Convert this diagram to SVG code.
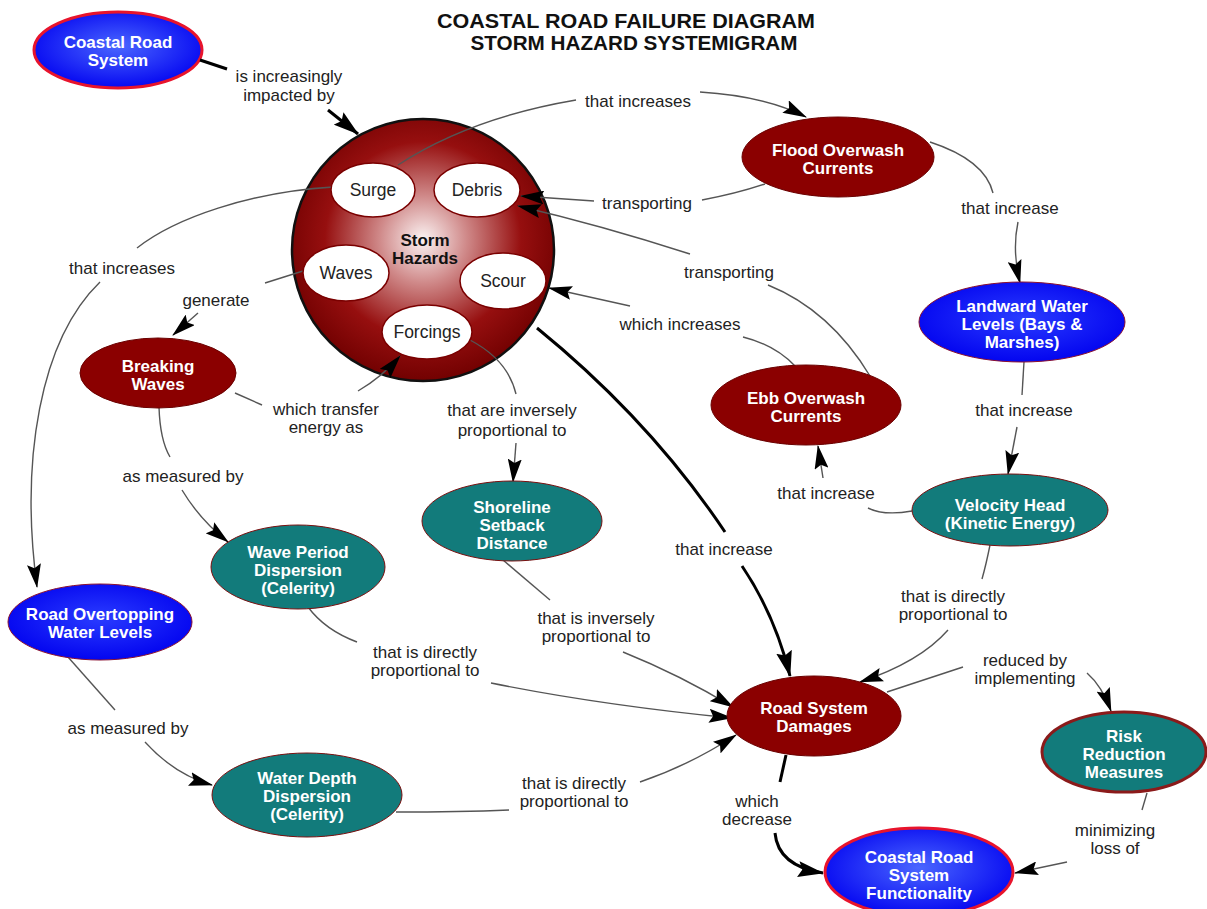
<svg xmlns="http://www.w3.org/2000/svg" width="1207" height="909" viewBox="0 0 1207 909">
<style>
.title{font-family:"Liberation Sans",Arial,sans-serif;font-weight:bold;font-size:20px;fill:#111;text-anchor:middle}
.nt{font-family:"Liberation Sans",Arial,sans-serif;font-weight:bold;font-size:17px;fill:#fff;text-anchor:middle}
.it{font-family:"Liberation Sans",Arial,sans-serif;font-size:17.5px;fill:#222;text-anchor:middle}
.sh{font-family:"Liberation Sans",Arial,sans-serif;font-weight:bold;font-size:17px;fill:#111;text-anchor:middle}
.lb{font-family:"Liberation Sans",Arial,sans-serif;font-size:17px;fill:#222;text-anchor:middle}
.red{fill:#8b0000;stroke:#6a0000;stroke-width:1}
.teal{fill:#127b7b;stroke:#7a1010;stroke-width:1}
.blue{fill:url(#blueG);stroke:#8a1030;stroke-width:1}
.blueR{fill:url(#blueG2);stroke:#e8142c;stroke-width:3}
.inner{fill:#fff;stroke:#7a0000;stroke-width:1.5}
.c{fill:none;stroke:#555;stroke-width:1.4}
.ca{fill:none;stroke:#555;stroke-width:1.4;marker-end:url(#ah)}
.t{fill:none;stroke:#000;stroke-width:3}
.ta{fill:none;stroke:#000;stroke-width:3;marker-end:url(#ahT)}
</style>
<defs>
<marker id="ah" markerWidth="24" markerHeight="14" refX="23" refY="7" orient="auto" markerUnits="userSpaceOnUse"><path d="M0,0 L24,7 L0,14 L4,7 z" fill="#000"/></marker>
<marker id="ahT" markerWidth="26" markerHeight="16" refX="25" refY="8" orient="auto" markerUnits="userSpaceOnUse"><path d="M0,0 L26,8 L0,16 L4,8 z" fill="#000"/></marker>
<radialGradient id="blueG" cx="0.5" cy="0.45" r="0.6"><stop offset="0" stop-color="#2a3cff"/><stop offset="1" stop-color="#0000ee"/></radialGradient>
<radialGradient id="blueG2" cx="0.5" cy="0.45" r="0.6"><stop offset="0" stop-color="#4a66ff"/><stop offset="1" stop-color="#0000f0"/></radialGradient>
<radialGradient id="stormG" cx="0.5" cy="0.46" r="0.55"><stop offset="0" stop-color="#fbf3f3"/><stop offset="0.3" stop-color="#d08a8a"/><stop offset="0.68" stop-color="#960f0f"/><stop offset="1" stop-color="#700000"/></radialGradient>
</defs>
<rect width="1207" height="909" fill="#fff"/>
<g id="title">
<text class="title" x="626" y="28" textLength="378" lengthAdjust="spacingAndGlyphs">COASTAL ROAD FAILURE DIAGRAM</text>
<text class="title" x="634" y="50" textLength="327" lengthAdjust="spacingAndGlyphs">STORM HAZARD SYSTEMIGRAM</text>
</g>
<g id="node-coastal-road-system">
<ellipse class="blueR" cx="118" cy="50" rx="84" ry="38"/>
<text class="nt" x="118" y="48">Coastal Road</text>
<text class="nt" x="118" y="66">System</text>
</g>
<g id="node-storm-hazards">
<circle cx="423" cy="250" r="131" fill="url(#stormG)" stroke="#111" stroke-width="2.5"/>
<text class="sh" x="425" y="246">Storm</text>
<text class="sh" x="425" y="264">Hazards</text>
</g>
<g id="connectors">
<path class="t" d="M200 60 L227 69"/>
<path class="ta" d="M328 110 L358 134"/>
<path class="c" d="M398 165 Q470 118 576 100"/>
<path class="ca" d="M700 92 Q765 96 806 117"/>
<path class="c" d="M765 184 Q735 194 702 200"/>
<path class="ca" d="M594 201 L521 196"/>
<path class="c" d="M870 376 Q830 310 768 285"/>
<path class="ca" d="M690 254 Q600 225 518 206"/>
<path class="c" d="M795 366 Q775 345 743 337"/>
<path class="ca" d="M630 306 L549 288"/>
<path class="c" d="M930 142 Q985 160 993 193"/>
<path class="ca" d="M1018 222 Q1012 250 1020 283"/>
<path class="c" d="M1024 362 L1022 395"/>
<path class="ca" d="M1017 427 L1008 474"/>
<path class="c" d="M912 511 Q884 516 868 508"/>
<path class="ca" d="M823 478 L818 446"/>
<path class="c" d="M990 545 Q986 565 982 579"/>
<path class="ca" d="M948 630 Q920 662 860 682"/>
<path class="c" d="M887 692 L963 667"/>
<path class="ca" d="M1087 673 Q1102 686 1111 711"/>
<path class="c" d="M1147 793 L1142 810"/>
<path class="ca" d="M1067 862 L1015 873"/>
<path class="t" d="M786 755 L780 782"/>
<path class="ta" d="M775 833 Q778 866 823 873"/>
<path class="t" d="M537 328 Q650 420 725 532"/>
<path class="ta" d="M742 566 Q775 615 790 676"/>
<path class="c" d="M470 340 Q508 360 516 394"/>
<path class="ca" d="M516 443 L513 482"/>
<path class="c" d="M235 393 L262 405"/>
<path class="ca" d="M358 391 Q382 377 400 356"/>
<path class="c" d="M303 271 L265 283"/>
<path class="ca" d="M198 313 L173 335"/>
<path class="c" d="M333 187 C250 192 175 218 137 248"/>
<path class="ca" d="M100 282 C40 340 20 460 37 587"/>
<path class="c" d="M159 407 Q160 440 170 457"/>
<path class="ca" d="M182 490 Q200 520 228 542"/>
<path class="c" d="M308 607 Q325 630 357 642"/>
<path class="ca" d="M491 683 Q600 705 732 718"/>
<path class="c" d="M503 560 L550 600"/>
<path class="ca" d="M623 652 Q680 675 733 707"/>
<path class="c" d="M396 812 Q460 812 509 810"/>
<path class="ca" d="M640 782 Q690 765 736 735"/>
<path class="c" d="M68 657 L115 710"/>
<path class="ca" d="M145 742 Q175 775 212 785"/>
</g>
<g id="node-surge"><ellipse class="inner" cx="373" cy="190" rx="42" ry="27"/><text class="it" x="373" y="196">Surge</text></g>
<g id="node-debris"><ellipse class="inner" cx="477" cy="190" rx="43" ry="27"/><text class="it" x="477" y="196">Debris</text></g>
<g id="node-waves"><ellipse class="inner" cx="346" cy="273" rx="43" ry="28"/><text class="it" x="346" y="279">Waves</text></g>
<g id="node-scour"><ellipse class="inner" cx="503" cy="281" rx="43" ry="28"/><text class="it" x="503" y="287">Scour</text></g>
<g id="node-forcings"><ellipse class="inner" cx="427" cy="332" rx="45" ry="27"/><text class="it" x="427" y="338">Forcings</text></g>
<g id="node-flood-overwash">
<ellipse class="red" cx="838" cy="157" rx="96" ry="40"/>
<text class="nt" x="838" y="156">Flood Overwash</text>
<text class="nt" x="838" y="174">Currents</text>
</g>
<g id="node-landward-water-levels">
<ellipse class="blue" cx="1022" cy="322" rx="103" ry="40"/>
<text class="nt" x="1022" y="312">Landward Water</text>
<text class="nt" x="1022" y="330">Levels (Bays &amp;</text>
<text class="nt" x="1022" y="348">Marshes)</text>
</g>
<g id="node-breaking-waves">
<ellipse class="red" cx="158" cy="373" rx="78" ry="35"/>
<text class="nt" x="158" y="372">Breaking</text>
<text class="nt" x="158" y="390">Waves</text>
</g>
<g id="node-ebb-overwash">
<ellipse class="red" cx="806" cy="405" rx="95" ry="40"/>
<text class="nt" x="806" y="404">Ebb Overwash</text>
<text class="nt" x="806" y="422">Currents</text>
</g>
<g id="node-velocity-head">
<ellipse class="teal" cx="1010" cy="510" rx="98" ry="36"/>
<text class="nt" x="1010" y="511">Velocity Head</text>
<text class="nt" x="1010" y="529">(Kinetic Energy)</text>
</g>
<g id="node-shoreline-setback">
<ellipse class="teal" cx="512" cy="521" rx="90" ry="40"/>
<text class="nt" x="512" y="513">Shoreline</text>
<text class="nt" x="512" y="531">Setback</text>
<text class="nt" x="512" y="549">Distance</text>
</g>
<g id="node-wave-period">
<ellipse class="teal" cx="298" cy="567" rx="87" ry="42"/>
<text class="nt" x="298" y="558">Wave Period</text>
<text class="nt" x="298" y="576">Dispersion</text>
<text class="nt" x="298" y="594">(Celerity)</text>
</g>
<g id="node-road-overtopping">
<ellipse class="blue" cx="100" cy="622" rx="92" ry="38"/>
<text class="nt" x="100" y="620">Road Overtopping</text>
<text class="nt" x="100" y="638">Water Levels</text>
</g>
<g id="node-road-system-damages">
<ellipse class="red" cx="814" cy="716" rx="87" ry="40"/>
<text class="nt" x="814" y="714">Road System</text>
<text class="nt" x="814" y="732">Damages</text>
</g>
<g id="node-risk-reduction">
<ellipse cx="1124" cy="752" rx="82" ry="40" fill="#127b7b" stroke="#8b1a1a" stroke-width="3"/>
<text class="nt" x="1124" y="742">Risk</text>
<text class="nt" x="1124" y="760">Reduction</text>
<text class="nt" x="1124" y="778">Measures</text>
</g>
<g id="node-water-depth">
<ellipse class="teal" cx="307" cy="795" rx="95" ry="42"/>
<text class="nt" x="307" y="784">Water Depth</text>
<text class="nt" x="307" y="802">Dispersion</text>
<text class="nt" x="307" y="820">(Celerity)</text>
</g>
<g id="node-functionality">
<ellipse class="blueR" cx="919" cy="872" rx="94" ry="44"/>
<text class="nt" x="919" y="863">Coastal Road</text>
<text class="nt" x="919" y="881">System</text>
<text class="nt" x="919" y="899">Functionality</text>
</g>
<g id="labels">
<text class="lb" x="289" y="82">is increasingly</text>
<text class="lb" x="289" y="101">impacted by</text>
<text class="lb" x="638" y="107">that increases</text>
<text class="lb" x="647" y="209">transporting</text>
<text class="lb" x="729" y="278">transporting</text>
<text class="lb" x="680" y="330">which increases</text>
<text class="lb" x="1010" y="214">that increase</text>
<text class="lb" x="1024" y="416">that increase</text>
<text class="lb" x="122" y="274">that increases</text>
<text class="lb" x="216" y="306">generate</text>
<text class="lb" x="326" y="415">which transfer</text>
<text class="lb" x="326" y="433">energy as</text>
<text class="lb" x="512" y="416">that are inversely</text>
<text class="lb" x="512" y="436">proportional to</text>
<text class="lb" x="183" y="482">as measured by</text>
<text class="lb" x="826" y="499">that increase</text>
<text class="lb" x="724" y="555">that increase</text>
<text class="lb" x="596" y="624">that is inversely</text>
<text class="lb" x="596" y="642">proportional to</text>
<text class="lb" x="425" y="658">that is directly</text>
<text class="lb" x="425" y="676">proportional to</text>
<text class="lb" x="953" y="602">that is directly</text>
<text class="lb" x="953" y="620">proportional to</text>
<text class="lb" x="1025" y="666">reduced by</text>
<text class="lb" x="1025" y="684">implementing</text>
<text class="lb" x="128" y="734">as measured by</text>
<text class="lb" x="574" y="789">that is directly</text>
<text class="lb" x="574" y="807">proportional to</text>
<text class="lb" x="757" y="807">which</text>
<text class="lb" x="757" y="825">decrease</text>
<text class="lb" x="1115" y="836">minimizing</text>
<text class="lb" x="1115" y="854">loss of</text>
</g>
</svg>
